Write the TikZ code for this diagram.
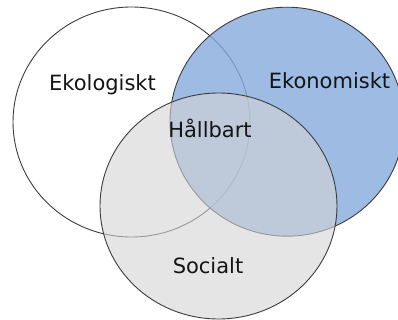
\documentclass[tikz,border=0pt]{standalone}
\usepackage{fontspec}
\setmainfont{DejaVu Sans}
\definecolor{edgec}{HTML}{3C3C3C}
\definecolor{bluec}{RGB}{132,170,220}
\definecolor{grayc}{RGB}{212,212,212}
\definecolor{textc}{HTML}{141414}
\tikzset{
  ring/.style={draw=edgec, line width=0.9bp},
  lbl/.style={anchor=base, inner sep=0pt, text=textc, font=\fontsize{21bp}{25bp}\selectfont},
}
\begin{document}
\begin{tikzpicture}[x=1bp,y=1bp]
\useasboundingbox (0,0) rectangle (398,320);
\clip (0,0) rectangle (398,320);
\draw[ring] (131.5,198) ellipse [x radius=118.5, y radius=115];
\draw[ring, fill=bluec, fill opacity=0.8] (287,198.3) ellipse [x radius=117, y radius=114.5];
\draw[ring, fill=grayc, fill opacity=0.6] (218.5,114) ellipse [x radius=118.5, y radius=113];
\node[lbl] (eko) at (102.5,230) {Ekologiskt};
\node[lbl] (ekon) at (329.5,232) {Ekonomiskt};
\node[lbl] (hall) at (210,183) {Hållbart};
\node[lbl] (soc) at (208,47) {Socialt};
\end{tikzpicture}
\end{document}
